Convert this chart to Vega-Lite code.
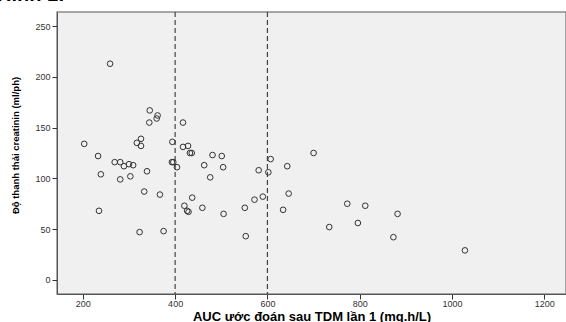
{
  "$schema": "https://vega.github.io/schema/vega-lite/v6.json",
  "width": 509,
  "height": 282,
  "autosize": "none",
  "padding": {"left": 57, "top": 12, "right": 0, "bottom": 28},
  "background": "white",
  "title": {
    "text": "Hình 1:",
    "anchor": "start",
    "frame": "group",
    "orient": "top",
    "offset": 6,
    "dx": -60,
    "font": "Liberation Sans",
    "fontSize": 20,
    "fontWeight": "bold",
    "color": "#000000"
  },
  "config": {
    "view": {"fill": "#f0f0f0", "stroke": "#8c8c8c", "strokeWidth": 1.5},
    "axis": {
      "labelFont": "Liberation Sans",
      "titleFont": "Liberation Sans",
      "labelFontSize": 9,
      "labelColor": "#333333",
      "titleFontWeight": "bold",
      "titleColor": "#000000",
      "domainColor": "#555555",
      "tickColor": "#333333",
      "tickSize": 5,
      "grid": false
    }
  },
  "layer": [
    {
      "data": {"values": [{"v": 400}, {"v": 600}]},
      "mark": {"type": "rule", "color": "#444444", "strokeWidth": 1.2, "strokeDash": [5, 3]},
      "encoding": {
        "x": {"field": "v", "type": "quantitative", "scale": {"domain": [144, 1247], "nice": false, "zero": false}}
      }
    },
    {
      "data": {
        "values": [
          {"auc": 259, "clcr": 213}, {"auc": 345, "clcr": 167}, {"auc": 362, "clcr": 162},
          {"auc": 360, "clcr": 159}, {"auc": 344, "clcr": 155}, {"auc": 417, "clcr": 155},
          {"auc": 203, "clcr": 134}, {"auc": 326, "clcr": 139}, {"auc": 317, "clcr": 135},
          {"auc": 326, "clcr": 132}, {"auc": 394, "clcr": 136}, {"auc": 417, "clcr": 131},
          {"auc": 428, "clcr": 132}, {"auc": 432, "clcr": 125}, {"auc": 436, "clcr": 125},
          {"auc": 481, "clcr": 123}, {"auc": 501, "clcr": 122}, {"auc": 233, "clcr": 122},
          {"auc": 607, "clcr": 119}, {"auc": 269, "clcr": 116}, {"auc": 281, "clcr": 116},
          {"auc": 289, "clcr": 112}, {"auc": 300, "clcr": 114}, {"auc": 309, "clcr": 113},
          {"auc": 393, "clcr": 116}, {"auc": 396, "clcr": 116}, {"auc": 404, "clcr": 111},
          {"auc": 463, "clcr": 113}, {"auc": 504, "clcr": 111}, {"auc": 643, "clcr": 112},
          {"auc": 239, "clcr": 104}, {"auc": 281, "clcr": 99}, {"auc": 303, "clcr": 102},
          {"auc": 339, "clcr": 107}, {"auc": 476, "clcr": 101}, {"auc": 581, "clcr": 108},
          {"auc": 602, "clcr": 106}, {"auc": 333, "clcr": 87}, {"auc": 367, "clcr": 84},
          {"auc": 437, "clcr": 81}, {"auc": 590, "clcr": 82}, {"auc": 572, "clcr": 79},
          {"auc": 646, "clcr": 85}, {"auc": 235, "clcr": 68}, {"auc": 420, "clcr": 73},
          {"auc": 426, "clcr": 68}, {"auc": 429, "clcr": 67}, {"auc": 459, "clcr": 71},
          {"auc": 505, "clcr": 65}, {"auc": 551, "clcr": 71}, {"auc": 634, "clcr": 69},
          {"auc": 323, "clcr": 47}, {"auc": 375, "clcr": 48}, {"auc": 553, "clcr": 43},
          {"auc": 700, "clcr": 125}, {"auc": 773, "clcr": 75}, {"auc": 812, "clcr": 73},
          {"auc": 882, "clcr": 65}, {"auc": 734, "clcr": 52}, {"auc": 796, "clcr": 56},
          {"auc": 873, "clcr": 42}, {"auc": 1028, "clcr": 29}
        ]
      },
      "mark": {"type": "point", "shape": "circle", "filled": false, "size": 32, "stroke": "#333333", "strokeWidth": 1, "opacity": 1},
      "encoding": {
        "x": {
          "field": "auc", "type": "quantitative",
          "scale": {"domain": [144, 1247], "nice": false, "zero": false},
          "axis": {"values": [200, 400, 600, 800, 1000, 1200], "format": "d", "title": "AUC ước đoán sau TDM lần 1 (mg.h/L)", "labelPadding": 0, "titleFontSize": 13, "titleY": 26, "titleBaseline": "alphabetic"}
        },
        "y": {
          "field": "clcr", "type": "quantitative",
          "scale": {"domain": [-14, 264], "nice": false, "zero": false},
          "axis": {"values": [0, 50, 100, 150, 200, 250], "title": "Độ thanh thải creatinin (ml/ph)", "labelPadding": 2, "titleFontSize": 9.5, "titleX": -42, "titleY": 133, "titleBaseline": "middle"}
        }
      }
    }
  ]
}
